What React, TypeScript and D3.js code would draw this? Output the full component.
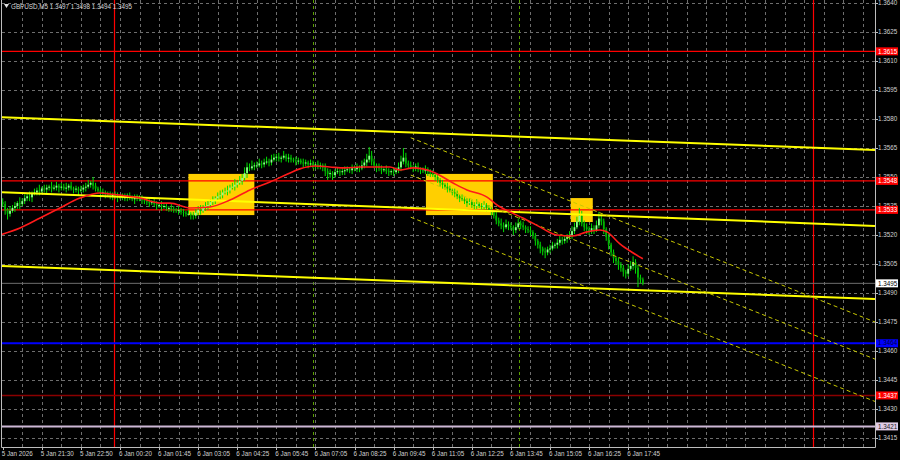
import React from 'react';
import * as d3 from 'd3';

const W = 900;
const H = 460;
const BASE = 1.34; // prices below are pips above this base

// ---- candle data (pips above 1.3400), one per M5 bar ----
const firstOpen = 137;
const closes = [
  136, 133, 131, 132.5, 134, 135, 136.5, 136, 137.5, 139,
  140, 139.5, 141.5, 142, 143, 142.5, 144, 143.5, 144.5, 145,
  144, 144.5, 145.5, 144.5, 145, 144, 144.5, 145.5, 144, 143.5,
  144, 143, 143.5, 144.5, 145, 146, 147, 145.5, 144, 143,
  141.5, 142, 141, 140.5, 140, 141, 140, 139.5, 140, 139,
  139.5, 140.5, 139.5, 138.5, 139, 139.5, 138.5, 138, 137.5, 137,
  136.5, 137, 136, 135.5, 135.5, 134.5, 135, 134, 134, 133.5,
  133, 132.5, 133, 132, 131.5, 131, 131, 130.5, 130, 131.5,
  133, 132.5, 134, 135, 135.5, 137, 138, 139, 140, 140.5,
  142, 142.5, 143, 144.5, 145, 146, 147, 148, 149.5, 152,
  155, 154.5, 155.5, 156, 156, 157, 156.5, 157.5, 158, 157.5,
  159, 160, 160.5, 159.5, 160, 161, 159.5, 160, 159, 158.5,
  158, 158.5, 157.5, 157, 157.5, 156.5, 157, 156, 156.5, 155.5,
  156, 155, 153, 151.5, 152, 151, 152.5, 153, 152.5, 153,
  153.5, 154, 153.5, 154.5, 154, 155, 154.5, 156, 157.5, 159,
  161, 158, 156, 155, 154.5, 153.5, 154, 153, 152.5, 153,
  152.5, 153.5, 155, 158, 160, 157, 156, 155, 154.5, 155.5,
  154, 153.5, 153, 154, 152.5, 151.5, 151, 150, 148.5, 147,
  146, 145, 144, 143, 142, 141.5, 140, 139, 138.5, 137.5,
  136.5, 137, 135.5, 135, 136, 135, 134.5, 135.5, 134, 133,
  132, 130, 127.5, 126, 125, 124, 125.5, 124.5, 124, 122.5,
  124, 126, 125, 124, 123, 122.5, 121.5, 119.5, 117, 115,
  113, 111.5, 111, 112.5, 113, 114.5, 115, 116, 117.5, 117,
  118, 119, 120, 122, 124, 127, 130, 126, 124, 123,
  122, 123.5, 122.5, 125, 128.5, 127, 123, 119, 115, 111,
  108, 106.5, 104.5, 103, 101, 100, 102.5, 104, 106, 103,
  98, 97, 95,
];
const wickUp = [
  2, 1.5, 1, 2.5, 1.5, 2, 1, 3, 1.5, 2,
  1.5, 2.5, 1, 2, 1.5, 3, 1, 2, 1.5, 1,
  2.5, 1.5, 2, 1, 2, 1.5, 2.5, 1, 2, 1,
  1.5, 1, 2, 1.5, 2, 2.5, 1, 3, 1.5, 1,
  1.5, 2, 1, 1.5, 2, 1, 1.5, 2, 1, 1.5,
  2, 1, 1.5, 1, 2, 1.5, 1, 2, 1, 1.5,
  1.5, 1, 2, 1.5, 1, 2, 1, 1.5, 1, 2,
  1.5, 1, 2, 1, 1.5, 1, 2, 1, 1.5, 2,
  2, 2.5, 1.5, 2, 2.5, 1.5, 2, 1, 2, 2.5,
  1.5, 2, 2.5, 1.5, 2, 3, 1.5, 2.5, 2, 3,
  2.5, 2, 3, 1.5, 2, 2.5, 1.5, 2, 2.5, 1.5,
  2.5, 2, 1.5, 2, 1, 2.5, 1, 2, 1.5, 1,
  2, 1.5, 1, 2, 1.5, 1, 2, 1.5, 1, 2,
  1.5, 1, 2, 1.5, 2, 1, 1.5, 2, 1, 1.5,
  2, 1.5, 1, 2, 1.5, 2, 1, 2.5, 2, 3,
  4.5, 2.5, 1.5, 1, 2, 1.5, 1, 2, 1.5, 1,
  2, 1.5, 2.5, 3, 5, 2.5, 1.5, 2, 1, 1.5,
  2, 1, 1.5, 2, 1, 1.5, 2, 1, 1.5, 1,
  1.5, 1, 2, 1.5, 1, 2, 1.5, 1, 2, 1,
  1.5, 2, 1, 1.5, 2.5, 1, 1.5, 2, 1, 1.5,
  1.5, 1, 2, 1.5, 2.5, 1.5, 2.5, 1.5, 2, 1,
  2.5, 2.5, 1.5, 2, 1, 1.5, 2, 1, 1.5, 1,
  1.5, 1, 2, 1.5, 2, 2, 1, 2, 2.5, 1.5,
  2, 1.5, 2, 2.5, 2.5, 2.5, 4, 2.5, 1.5, 2,
  1.5, 2.5, 1.5, 2.5, 3.5, 2, 1.5, 1, 1.5, 1,
  1.5, 1, 2, 1.5, 1.5, 1, 2.5, 2.5, 3, 1.5,
  1.5, 1.5, 1,
];
const wickDown = [
  1.5, 2.5, 3, 1.5, 1, 2, 1.5, 2.5, 1, 1.5,
  1.5, 2, 2.5, 1, 1.5, 2, 1, 1.5, 2.5, 1.5,
  2, 1, 1.5, 2.5, 1.5, 1, 2, 1.5, 1, 2,
  1.5, 2.5, 1, 1.5, 2, 1, 1.5, 2, 1.5, 1,
  2.5, 1.5, 2, 1, 1.5, 2, 1.5, 2.5, 1, 1,
  1.5, 2, 1.5, 1, 2.5, 1.5, 1, 2, 1.5, 1.5,
  2, 1, 1.5, 2.5, 1.5, 2, 1, 1.5, 2, 1.5,
  1.5, 1, 2, 1.5, 2, 1.5, 1, 2.5, 2, 1.5,
  1.5, 2, 1, 1.5, 2, 1, 1.5, 2, 1, 1.5,
  1.5, 1, 2, 1.5, 1, 2, 1.5, 1, 2, 1.5,
  2.5, 1.5, 1, 2, 1.5, 1, 2, 1.5, 1, 2,
  1.5, 1, 2, 1.5, 2, 1, 1.5, 2, 1.5, 1,
  2, 1.5, 1, 2, 1.5, 2, 1, 1.5, 2, 1.5,
  1.5, 2, 2.5, 3, 2, 2.5, 1.5, 1, 2, 1.5,
  2, 1, 1.5, 2, 1, 1.5, 2, 1, 1.5, 2,
  1.5, 2, 1.5, 2.5, 1.5, 2, 1, 1.5, 2, 1.5,
  2, 1, 1.5, 2, 1.5, 2, 1.5, 1, 2, 1.5,
  1.5, 2, 1, 1.5, 2, 1.5, 1, 2, 1.5, 2,
  2, 1.5, 2, 1, 1.5, 2, 1.5, 2, 1, 1.5,
  2, 1, 1.5, 2, 1.5, 1, 2, 1.5, 2, 1,
  2, 1.5, 2, 1.5, 2, 2.5, 1, 2, 1.5, 2.5,
  1.5, 1, 2, 1.5, 2, 1.5, 2, 1.5, 2.5, 2,
  2.5, 2, 3, 1.5, 2, 1, 1.5, 2, 1.5, 2,
  1.5, 2, 1.5, 2, 1.5, 1, 2, 1.5, 2, 2.5,
  2, 1.5, 2, 1, 1.5, 2, 2.5, 2, 2.5, 2,
  2.5, 2, 2.5, 2, 2.5, 2.5, 1.5, 1, 2, 3,
  5, 2, 1,
];

// ---- moving average (bar index, pips) ----
const maBars = [-1.1, 7.1, 15.3, 23.4, 31.6, 39.8, 43.9, 56.2, 64.4, 68.5, 76.6, 84.8, 93, 101.2, 109.4, 117.6, 121.6, 127.8, 133.9, 140, 146.2, 152.3, 158.5, 162.6, 167.9, 176.1, 184.3, 190, 198.2, 202.3, 207.6, 212.9, 219.8, 226.8, 233.3, 239.1, 244.4, 247.3, 252.6, 257.9, 262];
const maPips = [120, 123.6, 128.8, 134, 139.1, 141.7, 141.2, 139.1, 136.5, 136.5, 134, 134.5, 138.1, 143.3, 147.4, 152.1, 154.2, 155.7, 155.2, 154.7, 155.2, 155.2, 155.2, 153.6, 154.7, 152.6, 146.9, 143.3, 139.6, 135.5, 131.9, 128.8, 124.2, 120, 119.5, 121.6, 122.6, 121.6, 115.4, 110.8, 107.7];

// ---- axes ----
const priceTicks = ['1.3640', '1.3625', '1.3610', '1.3595', '1.3580', '1.3565', '1.3550', '1.3535', '1.3520', '1.3505', '1.3490', '1.3475', '1.3460', '1.3445', '1.3430', '1.3415'];
const timeLabels = ['5 Jan 2026', '5 Jan 21:30', '5 Jan 22:50', '6 Jan 00:20', '6 Jan 01:45', '6 Jan 03:05', '6 Jan 04:25', '6 Jan 05:45', '6 Jan 07:05', '6 Jan 08:25', '6 Jan 09:45', '6 Jan 11:05', '6 Jan 12:25', '6 Jan 13:45', '6 Jan 15:05', '6 Jan 16:25', '6 Jan 17:45'];
const timeLabelBars = [0, 16, 32, 48, 64, 80, 96, 112, 128, 144, 160, 176, 192, 208, 224, 240, 256];

// ---- horizontal levels ----
const levelPrices = [1.3615, 1.3548, 1.3533, 1.3464, 1.3437, 1.3421, 1.3495];
const levelLabels = ['1.3615', '1.3548', '1.3533', '1.3464', '1.3437', '1.3421', '1.3495'];

// ---- trend lines (start bar/price, end bar/price) ----
const trendStartBar = [-1.1, -1.1, -1.1];
const trendEndBar = [357, 357, 357];
const trendStartPrice = [1.3581, 1.35422, 1.3504];
const trendEndPrice = [1.3564, 1.35247, 1.34869];

const channelStartBar = [167, 167, 167];
const channelEndBar = [357, 357, 357];
const channelStartPrice = [1.35703, 1.3551, 1.35292];
const channelEndPrice = [1.3475, 1.34558, 1.34339];

// ---- rectangles ----
const boxStartBar = [76, 173.2, 232.5];
const boxEndBar = [103, 200.6, 241.5];
const boxHigh = [1.35516, 1.35516, 1.35391];
const boxLow = [1.35303, 1.35303, 1.35267];

// ---- vertical lines ----
const redVBars = [45.6, 331.5];
const greenVBars = [127, 211.3];

const title = 'GBPUSD,M5  1.3497 1.3498 1.3494 1.3495';

const levelStyle = [
  { line: '#ff0000', w: 1.3, box: '#ff0000', text: '#ffffff' },
  { line: '#ff0000', w: 1.3, box: '#ff0000', text: '#ffffff' },
  { line: '#ff0000', w: 1.3, box: '#ff0000', text: '#ffffff' },
  { line: '#0000ff', w: 2, box: '#0000ff', text: '#000040' },
  { line: '#8b0000', w: 1.5, box: '#ff0000', text: '#ffffff' },
  { line: '#cdb8d6', w: 2, box: '#e0cce6', text: '#202020' },
  { line: '#6e6e6e', w: 1, box: '#ffffff', text: '#000000' },
];

export default function App() {
  const x = d3.scaleLinear().domain([0, 357]).range([2.7, 875]);
  const y = d3.scaleLinear().domain([1.3415, 1.364]).range([438, 3]);
  const P = (p: number) => BASE + p / 10000;
  const font = "'Liberation Sans', Arial, sans-serif";
  const fs = 6.3;
  const plotR = 875;
  const plotB = 447;

  const candles = closes.map((c, i) => {
    const o = i === 0 ? firstOpen : closes[i - 1];
    const hi = Math.max(o, c) + wickUp[i];
    const lo = Math.min(o, c) - wickDown[i];
    return { i, o: P(o), c: P(c), h: P(hi), l: P(lo) };
  });

  const maLine = d3
    .line<number>()
    .x((_, k) => x(maBars[k]))
    .y((v) => y(P(v)))
    .curve(d3.curveMonotoneX);

  const gridBars = d3.range(8, 356, 8);
  const crisp = (v: number) => Math.round(v) + 0.5;

  return (
    <svg width={W} height={H} style={{ position: 'absolute', left: 0, top: 0, background: '#000' }}>
      <defs>
        <clipPath id="plot">
          <rect x={2} y={0} width={plotR - 2} height={plotB} />
        </clipPath>
      </defs>
      <rect x={0} y={0} width={W} height={H} fill="#000" />
      {/* grid */}
      <g stroke="#8a8a8a" strokeWidth={1} strokeDasharray="3,3" opacity={0.8}>
        {priceTicks.map((t) => (
          <line key={'h' + t} x1={2} x2={plotR} y1={crisp(y(+t))} y2={crisp(y(+t))} />
        ))}
        {gridBars.map((b) => (
          <line key={'v' + b} x1={crisp(x(b))} x2={crisp(x(b))} y1={0} y2={plotB} />
        ))}
      </g>
      <g clipPath="url(#plot)">
        {/* rectangles */}
        {boxStartBar.map((b, k) => (
          <rect key={'box' + k} x={x(b)} y={y(boxHigh[k])} width={x(boxEndBar[k]) - x(b)} height={y(boxLow[k]) - y(boxHigh[k])} fill="#ffcf00" />
        ))}
        {/* vertical separators */}
        {greenVBars.map((b) => (
          <line key={'g' + b} x1={crisp(x(b))} x2={crisp(x(b))} y1={0} y2={plotB} stroke="#5aa000" strokeDasharray="3,3" />
        ))}
        {redVBars.map((b) => (
          <line key={'r' + b} x1={crisp(x(b))} x2={crisp(x(b))} y1={0} y2={plotB} stroke="#ff0000" strokeWidth={1.2} />
        ))}
        {/* horizontal levels */}
        {levelPrices.map((p, k) => (
          <line key={'lv' + k} x1={0} x2={plotR} y1={y(p)} y2={y(p)} stroke={levelStyle[k].line} strokeWidth={levelStyle[k].w} />
        ))}
        {/* candles */}
        {candles.map((d) => {
          const cx = x(d.i);
          const up = d.c >= d.o;
          const top = y(Math.max(d.o, d.c));
          const bot = y(Math.min(d.o, d.c));
          return (
            <g key={'c' + d.i}>
              <line x1={cx} x2={cx} y1={y(d.h)} y2={y(d.l)} stroke="#00e000" strokeWidth={1} />
              <rect x={cx - 0.9} y={top} width={1.8} height={Math.max(1, bot - top)} fill={up ? '#8cff8c' : '#00b400'} />
            </g>
          );
        })}
        {/* trend lines */}
        {trendStartBar.map((b, k) => (
          <line key={'t' + k} x1={x(b)} x2={x(trendEndBar[k])} y1={y(trendStartPrice[k])} y2={y(trendEndPrice[k])} stroke="#ffff00" strokeWidth={2} />
        ))}
        {channelStartBar.map((b, k) => (
          <line key={'ch' + k} x1={x(b)} x2={x(channelEndBar[k])} y1={y(channelStartPrice[k])} y2={y(channelEndPrice[k])} stroke="#c8c800" strokeWidth={1} strokeDasharray="4,3" />
        ))}
        {/* moving average */}
        <path d={maLine(maPips) || ''} fill="none" stroke="#ff1a1a" strokeWidth={1.6} />
      </g>
      {/* frame */}
      <line x1={1.5} x2={1.5} y1={0} y2={plotB + 0.5} stroke="#bdbdbd" />
      <line x1={1.5} x2={plotR + 0.5} y1={plotB + 0.5} y2={plotB + 0.5} stroke="#bdbdbd" />
      <line x1={plotR + 0.5} x2={plotR + 0.5} y1={0} y2={plotB + 0.5} stroke="#bdbdbd" />
      {/* right axis */}
      <g fontFamily={font} fontSize={fs} fill="#d0d0d0">
        {priceTicks.map((t) => (
          <g key={'pt' + t}>
            <line x1={plotR} x2={plotR + 3} y1={crisp(y(+t))} y2={crisp(y(+t))} stroke="#bdbdbd" />
            <text x={878} y={y(+t)} dy="0.35em">{t}</text>
          </g>
        ))}
        {levelPrices.map((p, k) => (
          <g key={'lb' + k}>
            <rect x={876} y={y(p) - 4} width={22} height={8} fill={levelStyle[k].box} />
            <text x={878} y={y(p)} dy="0.35em" fill={levelStyle[k].text}>{levelLabels[k]}</text>
          </g>
        ))}
      </g>
      {/* bottom axis */}
      <g fontFamily={font} fontSize={fs} fill="#d0d0d0">
        {timeLabelBars.map((b, k) => (
          <g key={'tl' + k}>
            <line x1={crisp(x(b))} x2={crisp(x(b))} y1={plotB} y2={plotB + 3} stroke="#bdbdbd" />
            <text x={x(b) - 1} y={456}>{timeLabels[k]}</text>
          </g>
        ))}
      </g>
      {/* title */}
      <path d="M4,4 L9,4 L6.5,8 Z" fill="#e0e0e0" />
      <text x={11} y={8.5} fontFamily={font} fontSize={fs} fill="#d8d8d8">{title}</text>
    </svg>
  );
}
